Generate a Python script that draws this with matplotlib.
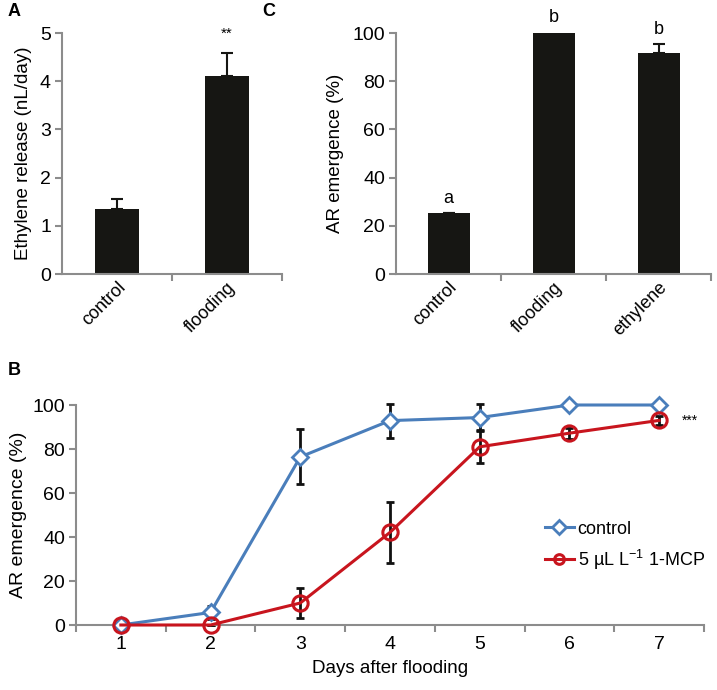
import matplotlib
matplotlib.use("Agg")
import matplotlib.pyplot as plt
import numpy as np

plt.rcParams['font.family'] = ['Liberation Sans', 'DejaVu Sans']

# Panel A
a_cats = ["control", "flooding"]
a_vals = [1.35, 4.11]
a_err = [0.20, 0.47]
a_ticks = [0, 1, 2, 3, 4, 5]

# Panel C
c_cats = ["control", "flooding", "ethylene"]
c_vals = [25.3, 100.0, 91.5]
c_err = [0.0, 0.5, 3.8]
c_letters = ["a", "b", "b"]
c_ticks = [0, 20, 40, 60, 80, 100]

# Panel B
days = [1, 2, 3, 4, 5, 6, 7]
ctrl = [0, 5.7, 76.4, 92.9, 94.3, 100, 100]
ctrl_err = [0, 2.8, 12.5, 7.7, 6.0, 0, 0]
mcp = [0, 0, 10.0, 42.1, 81.0, 87.2, 93.0]
mcp_err = [0, 0, 7.0, 13.7, 7.5, 2.5, 2.1]
b_ticks = [0, 20, 40, 60, 80, 100]

W, H = 717, 690
fig = plt.figure(figsize=(W/100, H/100), dpi=100)

gray = '#8c8c8c'
barc = '#161613'
blue = '#4a7ebb'
red = '#c8151e'

def style(ax, ysize=13):
    for s in ['top', 'right']:
        ax.spines[s].set_visible(False)
    for s in ['left', 'bottom']:
        ax.spines[s].set_color(gray)
        ax.spines[s].set_linewidth(1.5)
    ax.tick_params(axis='y', color=gray, width=1.5, length=5, labelsize=ysize, pad=3)
    ax.tick_params(axis='x', which='major', length=0, labelsize=13)
    ax.tick_params(axis='x', which='minor', color=gray, width=1.5, length=5)

def fx(px):
    return px / W
def fy(py):
    return 1 - py / H

# A
axA = fig.add_axes([fx(62), fy(274), fx(282) - fx(62), fy(33) - fy(274)])
xa = np.arange(len(a_cats))
axA.bar(xa, a_vals, width=0.4, color=barc, zorder=2)
axA.errorbar(xa, a_vals, yerr=[[0]*len(a_err), a_err], fmt='none', ecolor=barc, elinewidth=1.5, capsize=4, capthick=1.5, zorder=3)
axA.set_xlim(-0.5, 1.5)
axA.set_ylim(0, 5)
axA.set_yticks(a_ticks)
axA.set_xticks(xa)
axA.set_xticklabels(a_cats, rotation=45, ha='right', rotation_mode='anchor')
axA.set_xticks([0.5, 1.5], minor=True)
axA.set_ylabel("Ethylene release (nL/day)", fontsize=13.5, labelpad=6)
style(axA, 14)
axA.text(1, a_vals[1] + a_err[1] + 0.25, "**", ha='center', va='bottom', fontsize=11)

# C
axC = fig.add_axes([fx(396), fy(274), fx(711) - fx(396), fy(33) - fy(274)])
xc = np.arange(len(c_cats))
axC.bar(xc, c_vals, width=0.4, color=barc, zorder=2)
axC.errorbar(xc, c_vals, yerr=[[0]*len(c_err), c_err], fmt='none', ecolor=barc, elinewidth=1.5, capsize=4, capthick=1.5, zorder=3)
axC.set_xlim(-0.5, 2.5)
axC.set_ylim(0, 100)
axC.set_yticks(c_ticks)
axC.set_xticks(xc)
axC.set_xticklabels(c_cats, rotation=45, ha='right', rotation_mode='anchor')
axC.set_xticks([0.5, 1.5, 2.5], minor=True)
axC.set_ylabel("AR emergence (%)", fontsize=13.5, labelpad=6)
style(axC, 14)
for i, l in enumerate(c_letters):
    axC.text(i, c_vals[i] + c_err[i] + 2.5, l, ha='center', va='bottom', fontsize=13)

# B
axB = fig.add_axes([fx(76), fy(625), fx(704) - fx(76), fy(405) - fy(625)])
axB.errorbar(days, ctrl, yerr=ctrl_err, fmt='none', ecolor='#111111', elinewidth=2, capsize=3, capthick=2, zorder=2, clip_on=False)
axB.errorbar(days, mcp, yerr=mcp_err, fmt='none', ecolor='#111111', elinewidth=2, capsize=3, capthick=2, zorder=2, clip_on=False)
axB.plot(days, ctrl, color=blue, lw=2.2, marker='D', ms=8, mfc='white', mec=blue, mew=2, label='control', zorder=3, clip_on=False)
axB.plot(days, mcp, color=red, lw=2.2, marker='o', ms=11, mfc='none', mec=red, mew=2.2,
         label='5 µL L$^{\\mathregular{-1}}$ 1-MCP', zorder=4, clip_on=False)
axB.set_xlim(0.5, 7.5)
axB.set_ylim(0, 100)
axB.set_yticks(b_ticks)
axB.set_xticks(days)
axB.set_xticks(np.arange(0.5, 8, 1), minor=True)
style(axB, 14)
axB.tick_params(axis='x', which='major', pad=8, labelsize=14)
axB.set_xlabel("Days after flooding", fontsize=13.5, labelpad=5)
axB.set_ylabel("AR emergence (%)", fontsize=14, labelpad=4)
axB.text(7.25, mcp[-1], "***", ha='left', va='center', fontsize=10)
leg = axB.legend(loc='upper left', bbox_to_anchor=(fx(545 - 76) / (fx(704) - fx(76)), 0.475),
                 frameon=False, handlelength=1.6, handletextpad=0.2,
                 labelspacing=0.55, borderaxespad=0, borderpad=0, prop={'size': 13})
for h in leg.legend_handles:
    h.set_markersize(7)

fig.text(fx(8), fy(12), "A", fontsize=13, fontweight='bold', va='center')
fig.text(fx(262), fy(12), "C", fontsize=13, fontweight='bold', va='center')
fig.text(fx(8), fy(370), "B", fontsize=13, fontweight='bold', va='center')

fig.savefig("out.png", dpi=100)
